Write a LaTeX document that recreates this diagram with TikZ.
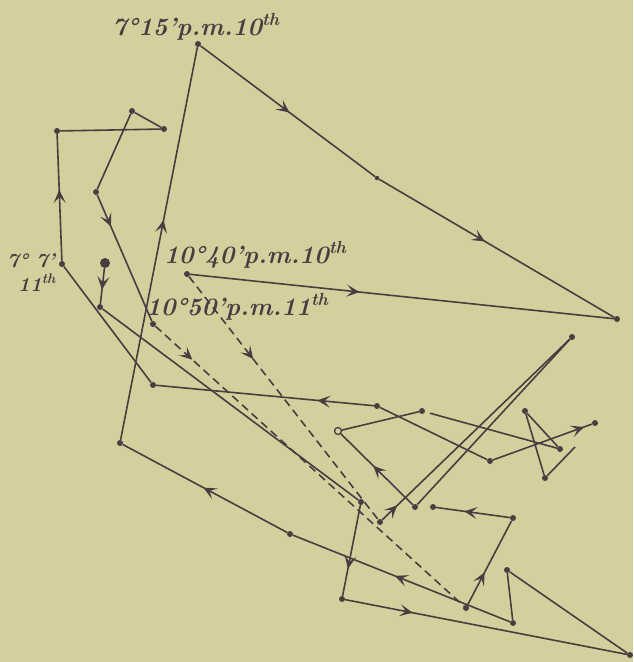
\documentclass[tikz,border=0pt]{standalone}
\usepackage{fontspec}
\usetikzlibrary{arrows.meta,decorations.markings}
\definecolor{bg}{RGB}{212,208,157}
\definecolor{ink}{RGB}{72,62,66}
\tikzset{
 trace/.style={draw=ink, color=ink, line width=1.6pt},
 dashtrace/.style={trace, dash pattern=on 8pt off 5pt},
 dot/.style={circle, fill=ink, inner sep=0pt, minimum size=6pt},
 smalldot/.style={circle, fill=ink, inner sep=0pt, minimum size=4.5pt},
 bigdot/.style={circle, fill=ink, inner sep=0pt, minimum size=10pt},
 ring/.style={circle, draw=ink, fill=bg, line width=1.3pt, inner sep=0pt, minimum size=7pt},
 arr/.style={postaction={decorate, decoration={markings, mark=at position #1 with {\arrow{Stealth[length=13pt,width=12pt,inset=6pt]}}}}},
 lbl/.style={font=\fontsize{25}{28}\selectfont\bfseries\itshape, text=ink, inner sep=0pt, anchor=base west},
 slbl/.style={lbl, font=\fontsize{20}{22}\selectfont\bfseries\itshape}
}
\begin{document}
\begin{tikzpicture}[x=1pt,y=-1pt]
\useasboundingbox (0,0) rectangle (633,662);
\fill[bg] (0,0) rectangle (633,662);
% points
\node[dot] (P1) at (198,44) {};
\node[smalldot] (P2) at (377,178) {};
\node[dot] (P3) at (617,319) {};
\node[dot] (P4) at (187,274) {};
\node[dot] (A) at (57,131) {};
\node[dot] (B) at (132,111) {};
\node[dot] (C) at (164,129) {};
\node[dot] (D) at (96,192) {};
\node[dot] (E) at (62,264) {};
\node[bigdot] (G) at (105,263) {};
\node[dot] (H) at (100,307) {};
\node[dot] (I) at (153,385) {};
\node[dot] (K) at (153,324) {};
\node[dot] (L) at (377,406) {};
\node[dot] (J) at (361,502) {};
\node[dot] (X) at (342,599) {};
\node[dot] (Y) at (630,655) {};
\node[dot] (Z) at (507,570) {};
\node[dot] (AA) at (513,623) {};
\node[dot] (AB) at (466,608) {};
\node[dot] (AC) at (513,518) {};
\node[dot] (AD) at (433,507) {};
\node[dot] (BB) at (290,534) {};
\node[dot] (CC) at (120,443) {};
\node[dot] (M) at (380,522) {};
\node[dot] (N) at (572,337) {};
\node[dot] (O) at (415,507) {};
\node[ring] (Q) at (338,431) {};
\node[dot] (R) at (422,411) {};
\node[dot] (S) at (560,449) {};
\node[dot] (T) at (525,411) {};
\node[dot] (U) at (545,478) {};
\coordinate (UE) at (575,447);
\node[dot] (V) at (490,461) {};
\node[dot] (W) at (595,423) {};
% traces
\draw[trace, arr=0.56] (E) -- (A);
\draw[trace] (A) -- (C) -- (B) -- (D);
\draw[trace, arr=0.25] (D) -- (K);
\draw[trace, arr=0.6] (G) -- (H);
\draw[trace] (H) -- (J);
\draw[trace] (E) -- (I);
\draw[trace, arr=0.26] (L) -- (I);
\draw[trace] (L) -- (V);
\draw[trace, arr=0.92] (V) -- (W);
\draw[trace, arr=0.7] (J) -- (X);
\draw[trace, arr=0.24] (X) -- (Y);
\draw[trace] (Y) -- (Z) -- (AA);
\draw[trace, arr=0.53] (AA) -- (BB);
\draw[trace, arr=0.51] (BB) -- (CC);
\draw[trace, arr=0.56] (CC) -- (P1);
\draw[trace, arr=0.51] (P1) -- (P2);
\draw[trace, arr=0.45] (P2) -- (P3);
\draw[trace, arr=0.4] (P4) -- (P3);
\draw[dashtrace, arr=0.34] (P4) -- (M);
\draw[dashtrace, arr=0.12] (K) -- (AB);
\draw[trace, arr=0.39] (AB) -- (AC);
\draw[trace, arr=0.62] (AC) -- (AD);
\draw[trace, arr=0.08] (M) -- (N);
\draw[trace] (N) -- (O);
\draw[trace, arr=0.55] (O) -- (Q);
\draw[trace] (Q) -- (R);
\draw[trace, shorten <=5pt] (R) -- (S);
\draw[trace] (T) -- (S);
\draw[trace] (T) -- (U) -- (UE);
% labels
\node[lbl] (t1) at (112,35) {7°15'p.m.10\textsuperscript{th}};
\node[lbl] (t2) at (164,263) {10°40'p.m.10\textsuperscript{th}};
\node[lbl] (t3) at (146,315) {10°50'p.m.11\textsuperscript{th}};
\node[slbl] (t4) at (7,267) {7° 7'};
\node[slbl] (t5) at (18,291) {11\textsuperscript{th}};
\end{tikzpicture}
\end{document}
